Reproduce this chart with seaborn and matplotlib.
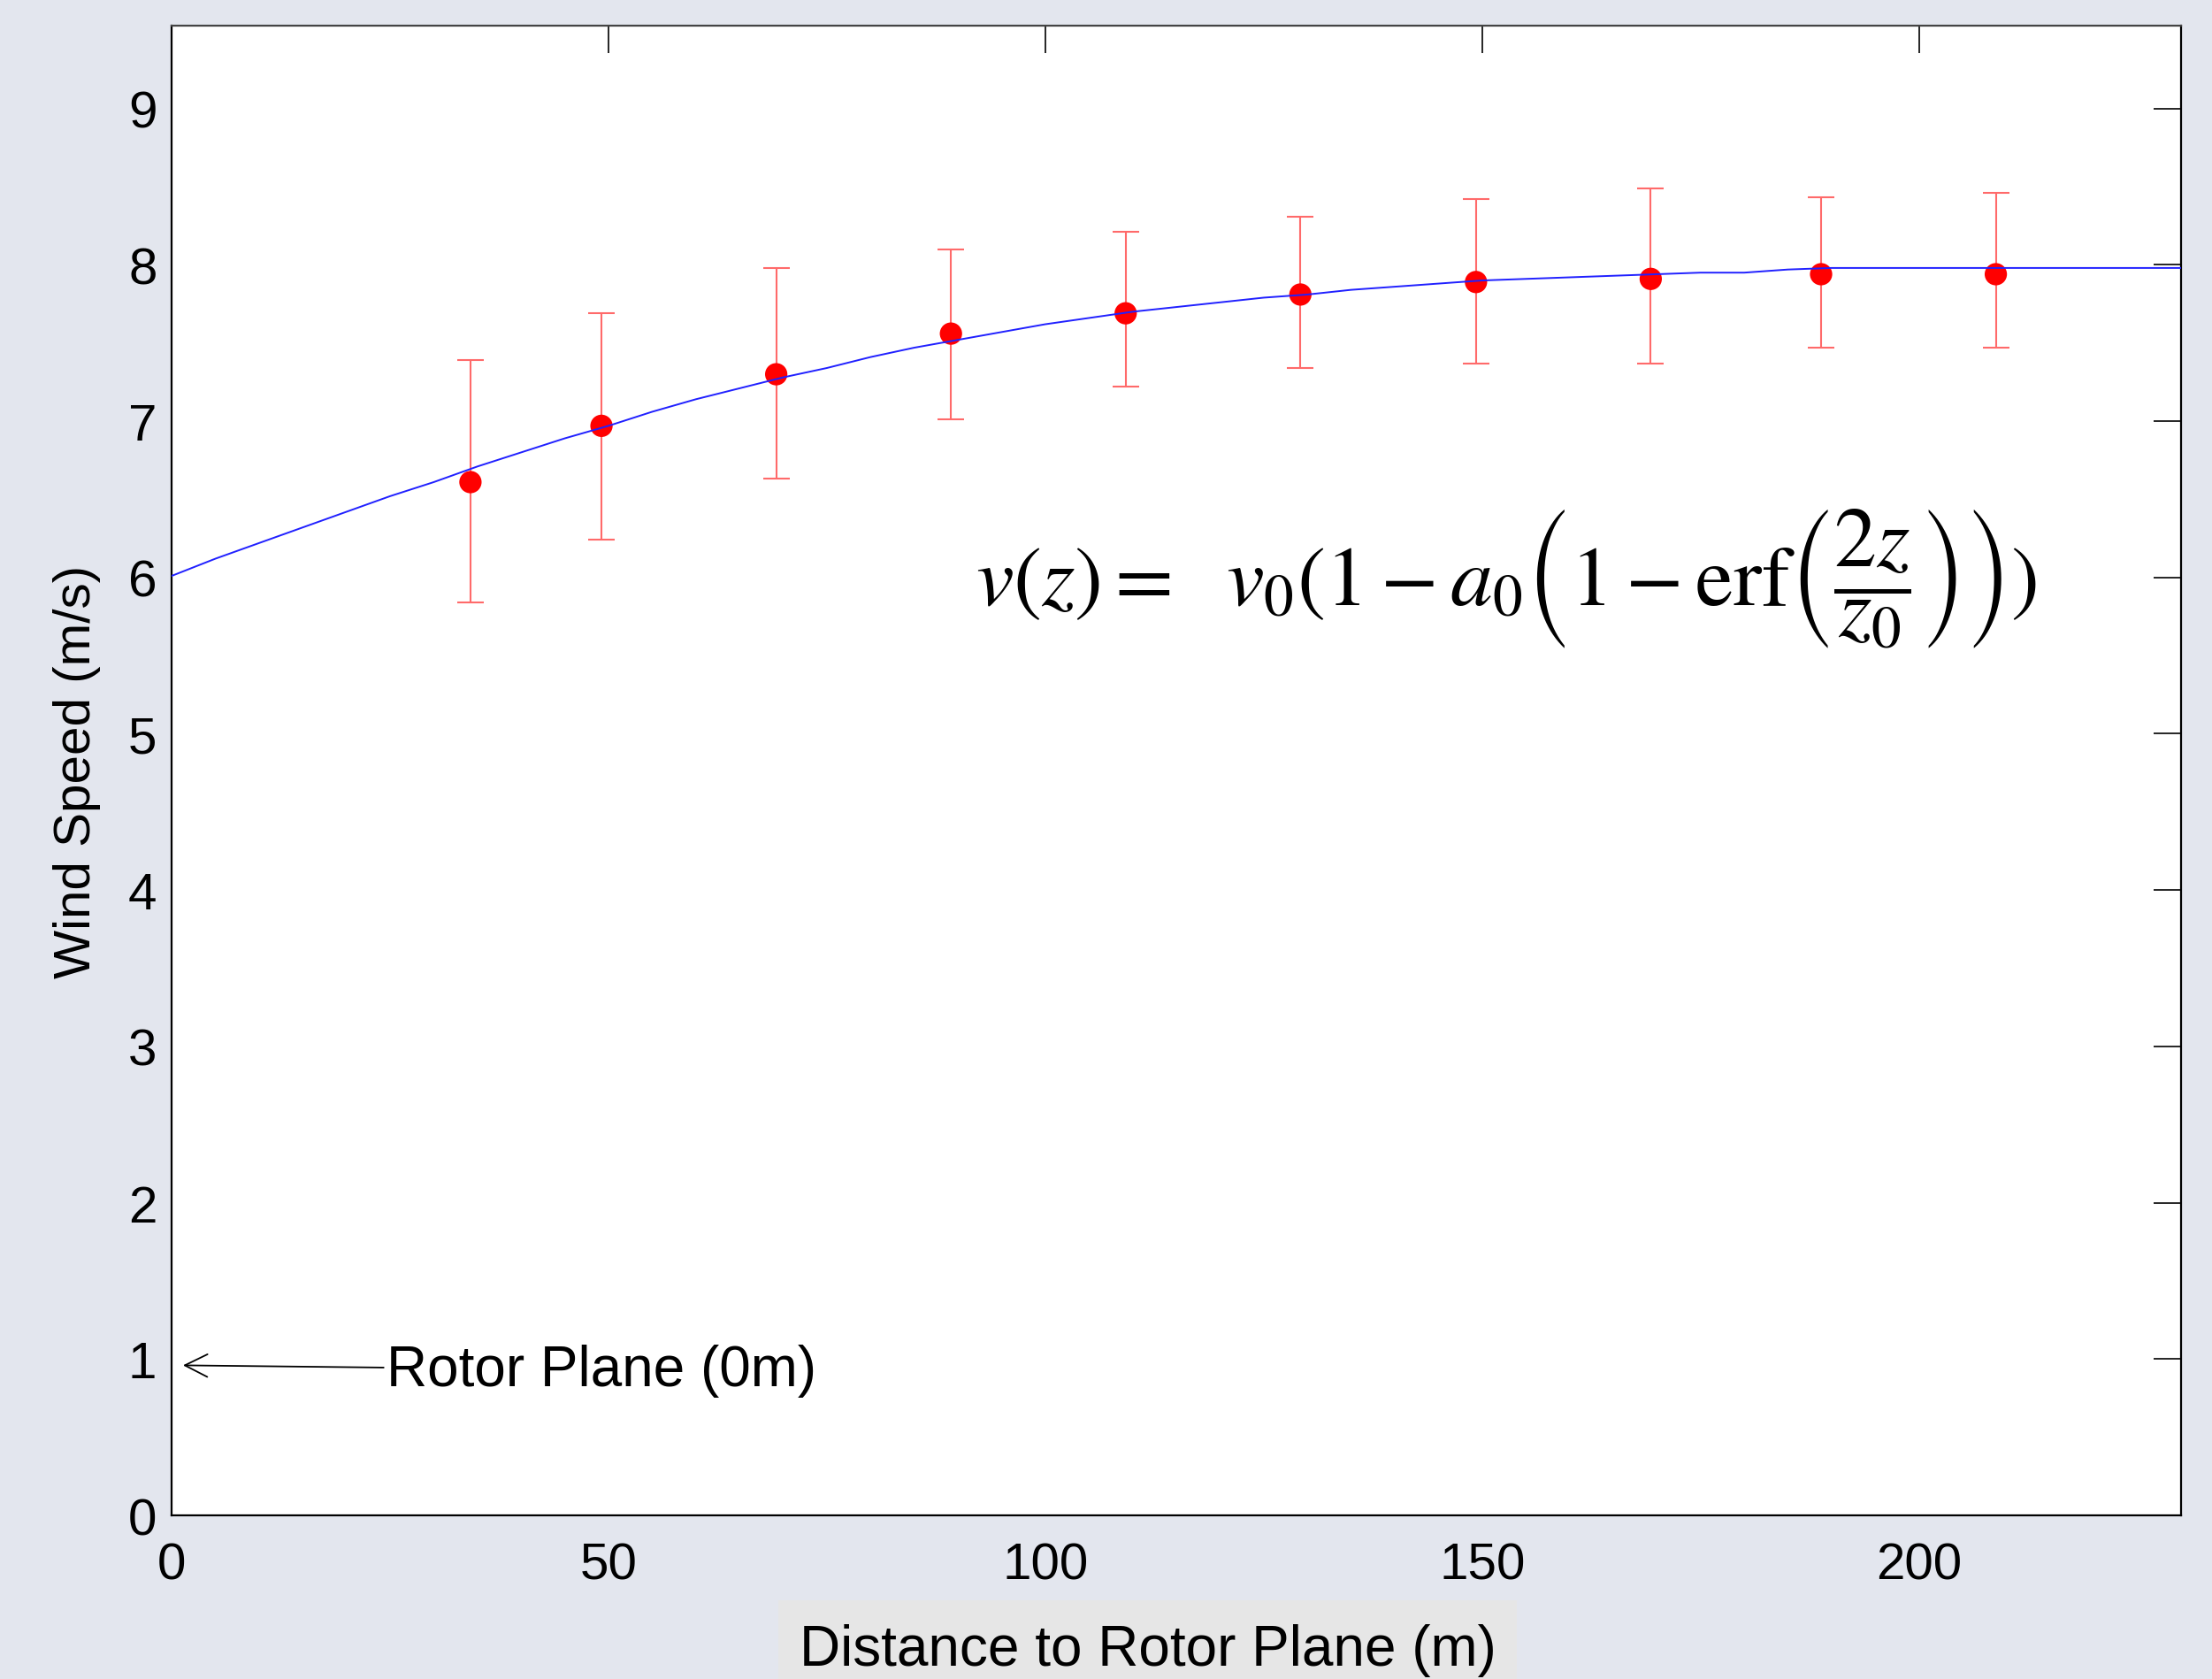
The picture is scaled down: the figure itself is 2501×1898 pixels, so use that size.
import numpy as np
import pandas as pd
import matplotlib
matplotlib.use("Agg")
import matplotlib.pyplot as plt
import seaborn as sns
from matplotlib.patches import Rectangle

# ---- data ----
fit_z = [0, 5, 10, 15, 20, 25, 30, 35, 40, 45, 50, 55, 60, 65, 70, 75, 80, 85, 90,
         95, 100, 105, 110, 115, 120, 125, 130, 135, 140, 145, 150, 155, 160, 165,
         170, 175, 180, 185, 190, 200, 210, 220, 230]
fit_v = [6.01, 6.12, 6.22, 6.32, 6.42, 6.52, 6.61, 6.71, 6.80, 6.89, 6.97, 7.06, 7.14,
         7.21, 7.28, 7.34, 7.41, 7.47, 7.52, 7.57, 7.62, 7.66, 7.70, 7.73, 7.76, 7.79,
         7.81, 7.84, 7.86, 7.88, 7.90, 7.91, 7.92, 7.93, 7.94, 7.95, 7.95, 7.97, 7.98,
         7.98, 7.98, 7.98, 7.98]

meas_z = [34.2, 49.2, 69.2, 89.2, 109.2, 129.2, 149.3, 169.3, 188.8, 208.8]
meas_v = [6.61, 6.97, 7.30, 7.56, 7.69, 7.81, 7.89, 7.91, 7.94, 7.94]
meas_hi = [7.39, 7.69, 7.98, 8.10, 8.21, 8.31, 8.42, 8.49, 8.43, 8.46]
meas_lo = [5.84, 6.24, 6.63, 7.01, 7.22, 7.34, 7.37, 7.37, 7.47, 7.47]

x_ticks = [0, 50, 100, 150, 200]
y_ticks = [0, 1, 2, 3, 4, 5, 6, 7, 8, 9]

fit_df = pd.DataFrame({"z": fit_z, "v": fit_v})
meas_df = pd.DataFrame({"z": meas_z, "v": meas_v, "hi": meas_hi, "lo": meas_lo})

# ---- style ----
sns.set_theme(style="white")
plt.rcParams["font.family"] = ["Liberation Sans", "DejaVu Sans"]
plt.rcParams["mathtext.fontset"] = "stix"

BG = "#E3E6EE"
fig = plt.figure(figsize=(25.01, 18.99), dpi=100, facecolor=BG)
ax = fig.add_axes([0.0776, 0.0974, 0.986 - 0.0776, 0.9842 - 0.0974])
ax.set_facecolor("white")

# error bars
yerr = np.array([meas_df["v"] - meas_df["lo"], meas_df["hi"] - meas_df["v"]])
ax.errorbar(meas_df["z"], meas_df["v"], yerr=yerr, fmt="none",
            ecolor="#FF6A6A", elinewidth=1.5, capsize=11, capthick=1.5, zorder=2)

# measured points
sns.scatterplot(data=meas_df, x="z", y="v", ax=ax, color="#FF0000", s=330,
                edgecolor="none", zorder=3, legend=False)

# fitted curve
sns.lineplot(data=fit_df, x="z", y="v", ax=ax, color="#2020FF", linewidth=1.4,
             zorder=4, legend=False)

ax.set_xlim(0, 230)
ax.set_ylim(0, 9.53)
ax.set_xticks(x_ticks)
ax.set_yticks(y_ticks)
ax.set_xticklabels([str(t) for t in x_ticks])
ax.set_yticklabels([str(t) for t in y_ticks])

ax.tick_params(axis="both", which="major", direction="in", length=22, width=1.2,
               colors="black", labelsize=42, top=True, right=True,
               labeltop=False, labelright=False)
ax.tick_params(axis="x", pad=21)
ax.tick_params(axis="y", pad=12)

for name, sp in ax.spines.items():
    sp.set_visible(True)
    sp.set_color("black")
    sp.set_linewidth(1.6)
ax.spines["top"].set_color("#444444")

ax.set_ylabel("Wind Speed (m/s)", fontsize=42, color="black", labelpad=22)
ax.set_xlabel("")

# x-label with grey box
fig.patches.append(Rectangle((880 / 2501, 0), (1715 - 880) / 2501, 89 / 1899,
                             transform=fig.transFigure, facecolor="#E6E6E6",
                             edgecolor="none", zorder=0))
fig.text((880 + 1715) / 2 / 2501, 1 - 1866 / 1899, "Distance to Rotor Plane (m)",
         fontsize=46, color="black", ha="center", va="center")

# annotation
ax.annotate("Rotor Plane (0m)", xy=(1.3, 0.96), xytext=(24.6, 0.93),
            fontsize=46, color="black", va="center", ha="left",
            arrowprops=dict(arrowstyle="->", color="black", lw=1.3,
                            shrinkA=0, shrinkB=0))

# equation
ax.text(92.0, 6.0,
        r"$v(z) =\ \ v_0(1 - a_0\left(1 - \mathrm{erf}\left(\dfrac{2z}{z_0}\right)\right))$",
        fontsize=69, color="black", ha="left", va="center")

fig.savefig("out.png", dpi=100, facecolor=BG)
